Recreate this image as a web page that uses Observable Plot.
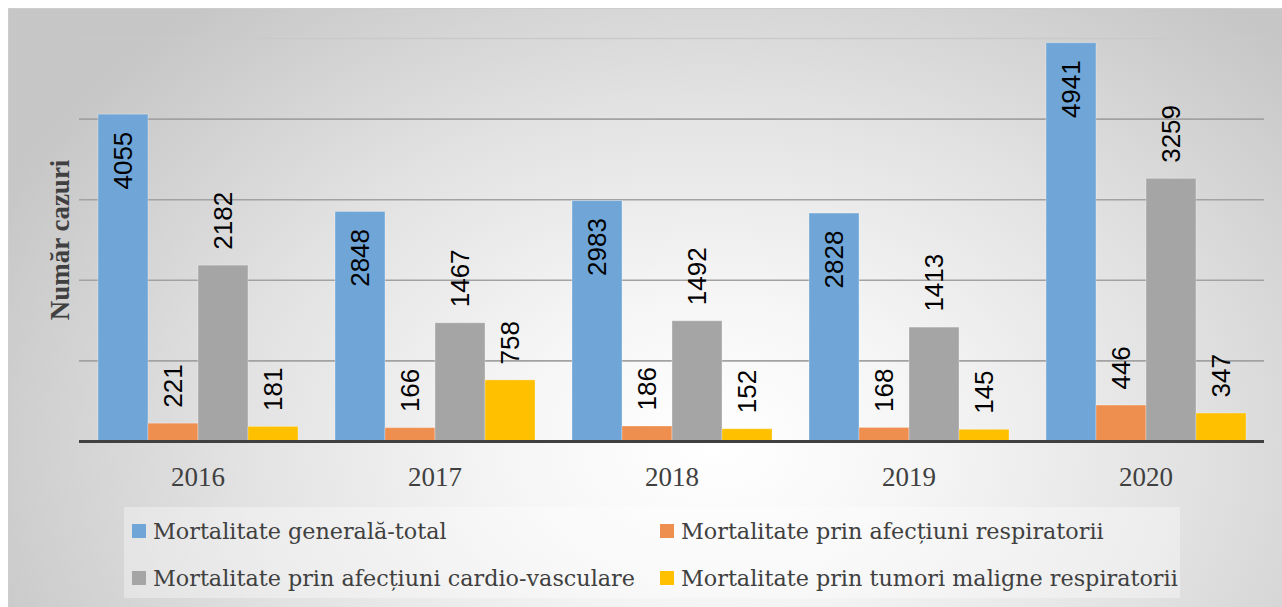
<!DOCTYPE html>
<html><head><meta charset="utf-8">
<script src="https://cdn.jsdelivr.net/npm/d3@7"></script>
<script src="https://cdn.jsdelivr.net/npm/@observablehq/plot@0.6"></script>
<style>
body{margin:0;background:#fff;}
#wrap{position:relative;width:1282px;height:607px;overflow:hidden;}
#bg{position:absolute;left:8px;top:8px;width:1280px;height:605px;border-top:1px solid #cdcdcd;border-left:1px solid #cdcdcd;
 background: radial-gradient(ellipse 62% 95% at 55% 72%, #ffffff 0%, #f6f6f6 25%, #e2e2e2 60%, #c6c6c6 100%);}
#chart{position:absolute;left:0;top:0;}
#legend{position:absolute;left:124px;top:507px;width:1056px;height:91px;background:rgba(255,255,255,0.35);
 font-family:"DejaVu Serif",serif;font-size:22.3px;color:#404040;}
.item{position:absolute;display:flex;align-items:center;white-space:nowrap;height:30px;}
.sw{width:14px;height:14px;margin-right:7px;box-sizing:border-box;}
</style></head>
<body>
<div id="wrap"><div id="bg"></div><div id="chart"></div><div id="legend"></div></div>
<script>
const years = ["2016", "2017", "2018", "2019", "2020"];
const seriesNames = [
  "Mortalitate generală-total",
  "Mortalitate prin afecțiuni respiratorii",
  "Mortalitate prin afecțiuni cardio-vasculare",
  "Mortalitate prin tumori maligne respiratorii"
];
const general = [4055, 2848, 2983, 2828, 4941];
const respiratorii = [221, 166, 186, 168, 446];
const cardio = [2182, 1467, 1492, 1413, 3259];
const tumori = [181, 758, 152, 145, 347];
const colors = ["#6fa6d7", "#ee8e4f", "#a5a5a5", "#ffc000"];
const yTicks = [1000, 2000, 3000, 4000, 5000];

const seriesValues = [general, respiratorii, cardio, tumori];
const data = years.flatMap((yr, i) => seriesNames.map((s, j) => ({year: yr, series: s, value: seriesValues[j][i]})));

const labelFont = {fontFamily: "Liberation Sans, sans-serif", fontSize: 26, fill: "#000"};

const chart = Plot.plot({
  width: 1282,
  height: 500,
  marginLeft: 78,
  marginRight: 17,
  marginTop: 38,
  marginBottom: 59,
  style: {background: "transparent", fontFamily: "Liberation Serif, serif"},
  fx: {domain: years, padding: 0, label: null},
  x: {domain: seriesNames, paddingInner: 0, paddingOuter: 0.34, axis: null},
  y: {domain: [0, 5000]},
  color: {domain: seriesNames, range: colors},
  marks: [
    Plot.gridY(yTicks.slice(0, 4), {stroke: "#a2a2a2", strokeOpacity: 1, strokeWidth: 1.6}),
    Plot.gridY(yTicks.slice(4), {stroke: "#c9c9c9", strokeOpacity: 1, strokeWidth: 1.6}),
    Plot.barY(data, {fx: "year", x: "series", y: "value", fill: "series", stroke: "#ffffff", strokeOpacity: 0.3, strokeWidth: 1}),
    Plot.ruleY([0], {stroke: "#404040", strokeWidth: 3}),
    Plot.text(data.filter(d => d.series === seriesNames[0]), {fx: "year", x: "series", y: "value", text: d => String(d.value), rotate: -90, textAnchor: "end", dy: 17, ...labelFont}),
    Plot.text(data.filter(d => d.series !== seriesNames[0]), {fx: "year", x: "series", y: "value", text: d => String(d.value), rotate: -90, textAnchor: "start", dy: -16, ...labelFont}),
    Plot.axisFx({anchor: "bottom", tickSize: 0, tickPadding: 25, fontSize: 27, label: null, color: "#404040"}),
    Plot.axisY({ticks: [], tickSize: 0, label: "Număr cazuri", labelAnchor: "center", labelArrow: "none", labelOffset: 30, fontSize: 27, fontWeight: "bold", color: "#404040"})
  ]
});
document.getElementById("chart").appendChild(chart);

const legend = document.getElementById("legend");
const pos = [[8, 24], [536, 24], [8, 71], [536, 71]];
seriesNames.forEach((s, j) => {
  const it = document.createElement("div");
  it.className = "item";
  it.style.left = pos[j][0] + "px";
  it.style.top = (pos[j][1] - 15) + "px";
  it.innerHTML = `<span class="sw" style="background:${colors[j]}"></span><span>${s}</span>`;
  legend.appendChild(it);
});
</script>
</body></html>
